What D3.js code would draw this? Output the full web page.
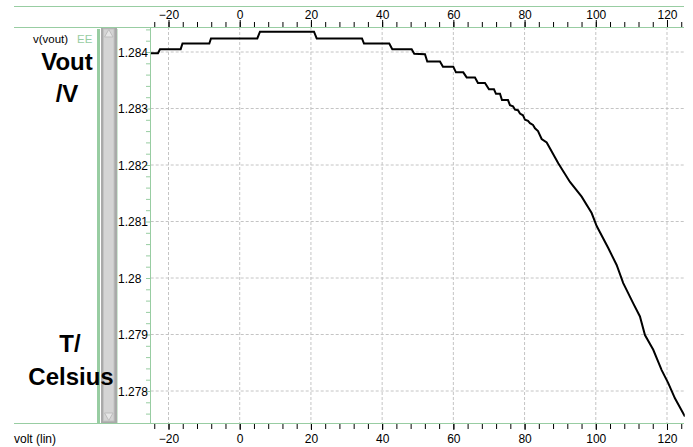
<!DOCTYPE html>
<head>
  <meta charset="UTF-8">
  <title>Vout vs T</title>
  <style>
    body { margin: 0; background: #fff; }
    text { font-family: "Liberation Sans", Arial, sans-serif; }
  </style>
</head>
<body>
<script src="https://d3js.org/d3.v7.min.js" charset="utf-8"></script>
<script>
// temperature (Celsius) and output voltage (V)
let temps = [-25, -22.95, -22.39, -16.58, -16.07, -8.54, -8.07, 4.94, 5.69, 20.86,
  21.62, 34.34, 34.9, 42.0, 42.85, 48.29, 49.02, 52.03, 52.67, 56.24,
  57.08, 59.98, 60.73, 62.78, 63.74, 66.07, 66.91, 68.88, 70.0, 71.41,
  71.97, 73.1, 73.65, 75.34, 75.9, 76.74, 77.31, 78.15, 78.71, 79.55,
  80.12, 80.96, 81.52, 82.37, 82.93, 83.77, 84.8, 86.21, 89.46, 92.75,
  96.03, 98.84, 100.25, 103.5, 105.86, 107.71, 110.52, 112.4, 113.81, 116.14,
  118.5, 120.35, 122.23, 125.04];
let vout = [1.28398, 1.28398, 1.28405, 1.28405, 1.28415, 1.28415, 1.28424, 1.28424, 1.28436, 1.28436,
  1.28424, 1.28424, 1.28415, 1.28415, 1.28405, 1.28405, 1.28397, 1.28396, 1.28383, 1.28383,
  1.28374, 1.28374, 1.28364, 1.28364, 1.28355, 1.28355, 1.28345, 1.28345, 1.28334, 1.28334,
  1.28326, 1.28326, 1.28315, 1.28315, 1.28306, 1.28304, 1.28298, 1.28297, 1.28291, 1.28288,
  1.2828, 1.28278, 1.28274, 1.28271, 1.28265, 1.2826, 1.28246, 1.2824, 1.28203, 1.2817,
  1.28144, 1.28115, 1.28092, 1.28053, 1.28023, 1.27991, 1.27955, 1.27932, 1.27899, 1.27873,
  1.27837, 1.27814, 1.27787, 1.27755];

let xTicks = [-20, 0, 20, 40, 60, 80, 100, 120];
let yTicks = [1.278, 1.279, 1.28, 1.281, 1.282, 1.283, 1.284];
let yTickLabels = ["1.278", "1.279", "1.28", "1.281", "1.282", "1.283", "1.284"];

let width = 693;
let height = 447;
let green = "#98cda2";

let svg = d3.select('body').append('svg')
  .attr('width', width)
  .attr('height', height);

// plot box
let plot = { left: 150.7, right: 684.8, top: 27, bottom: 423 };

let x = d3.scaleLinear().domain([-25, 125]).range([plot.left, plot.right]);
let y = d3.scaleLinear().domain([1.278, 1.284]).range([391, 52]);

// grid
svg.append('g').selectAll('line').data(xTicks).enter().append('line')
  .attr('x1', d => x(d)).attr('x2', d => x(d))
  .attr('y1', plot.top).attr('y2', plot.bottom)
  .attr('stroke', '#c4c4c4').attr('stroke-dasharray', '3,2');
svg.append('g').selectAll('line').data(yTicks).enter().append('line')
  .attr('x1', plot.left).attr('x2', plot.right)
  .attr('y1', d => y(d)).attr('y2', d => y(d))
  .attr('stroke', '#c4c4c4').attr('stroke-dasharray', '3,2');

// green frame lines
svg.append('line').attr('x1', 14).attr('x2', 684).attr('y1', 6.5).attr('y2', 6.5).attr('stroke', green);
svg.append('line').attr('x1', 14).attr('x2', 684).attr('y1', 27.5).attr('y2', 27.5).attr('stroke', green);
svg.append('line').attr('x1', 14).attr('x2', 684).attr('y1', 423.5).attr('y2', 423.5).attr('stroke', green);
svg.append('line').attr('x1', 150.5).attr('x2', 150.5).attr('y1', 27).attr('y2', 423).attr('stroke', green);

// top axis (ticks up)
let topAxis = d3.axisTop(x).tickValues(d3.range(-24, 125, 4)).tickSize(5).tickFormat('');
svg.append('g').attr('transform', 'translate(0,27)').call(topAxis)
  .call(g => g.select('.domain').remove())
  .selectAll('line').attr('stroke', '#000');
let topMajor = d3.axisTop(x).tickValues(xTicks).tickSize(7).tickPadding(1);
svg.append('g').attr('transform', 'translate(0,27)').call(topMajor)
  .call(g => g.select('.domain').remove())
  .call(g => g.selectAll('text').attr('font-size', 12).attr('font-family', 'Liberation Sans, Arial').attr('fill', '#000'))
  .selectAll('line').attr('stroke', '#000');

// bottom axis (ticks down)
let botAxis = d3.axisBottom(x).tickValues(d3.range(-24, 125, 4)).tickSize(5).tickFormat('');
svg.append('g').attr('transform', 'translate(0,424)').call(botAxis)
  .call(g => g.select('.domain').remove())
  .selectAll('line').attr('stroke', '#000');
let botMajor = d3.axisBottom(x).tickValues(xTicks).tickSize(6).tickPadding(4);
svg.append('g').attr('transform', 'translate(0,424)').call(botMajor)
  .call(g => g.select('.domain').remove())
  .call(g => g.selectAll('text').attr('font-size', 12).attr('font-family', 'Liberation Sans, Arial').attr('fill', '#000'))
  .selectAll('line').attr('stroke', '#000');

// left axis minor ticks
let leftAxis = d3.axisLeft(y).tickValues(d3.range(1.2776, 1.2845, 0.0002)).tickSize(4).tickFormat('');
svg.append('g').attr('transform', 'translate(150,0)').call(leftAxis)
  .call(g => g.select('.domain').remove())
  .selectAll('line').attr('stroke', green);

// y labels, left aligned
svg.append('g').selectAll('text').data(yTicks).enter().append('text')
  .attr('x', 118)
  .attr('y', d => y(d) + 4.5)
  .attr('font-size', 12)
  .attr('fill', '#000')
  .text((d, i) => yTickLabels[i]);

// scrollbar
svg.append('rect').attr('x', 97).attr('y', 29).attr('width', 3).attr('height', 394).attr('fill', green);
svg.append('rect').attr('x', 101).attr('y', 28).attr('width', 16).attr('height', 395).attr('fill', '#a9a9a9');
svg.append('rect').attr('x', 103.5).attr('y', 29).attr('width', 10.5).attr('height', 392)
  .attr('fill', '#d4d4d4').attr('stroke', '#c2c2c2');
svg.append('path').attr('d', 'M104.5,37 L108.8,29.5 L113,37 Z').attr('fill', '#e6e6e6').attr('stroke', '#bdbdbd');
svg.append('path').attr('d', 'M104.5,413 L108.8,420.5 L113,413 Z').attr('fill', '#e6e6e6').attr('stroke', '#bdbdbd');
svg.append('line').attr('x1', 117.5).attr('x2', 117.5).attr('y1', 29).attr('y2', 423).attr('stroke', '#cfe6d3');

// curve
let pts = temps.map((t, i) => [x(t), y(vout[i])]);
svg.append('defs').append('clipPath').attr('id', 'clip').append('rect')
  .attr('x', plot.left).attr('y', plot.top).attr('width', plot.right - plot.left).attr('height', plot.bottom - plot.top);
svg.append('path')
  .attr('d', d3.line()(pts))
  .attr('fill', 'none')
  .attr('stroke', '#000')
  .attr('stroke-width', 2)
  .attr('clip-path', 'url(#clip)');

// side labels
svg.append('text').attr('x', 33).attr('y', 43).attr('font-size', 11.5).attr('fill', '#000').text('v(vout)');
svg.append('text').attr('x', 77).attr('y', 43).attr('font-size', 11.5).attr('fill', green).text('EE');
let big = [['Vout', 67, 70], ['/V', 67, 102], ['T/', 70, 352], ['Celsius', 71, 385]];
svg.append('g').selectAll('text').data(big).enter().append('text')
  .attr('x', d => d[1]).attr('y', d => d[2])
  .attr('text-anchor', 'middle')
  .attr('font-size', 24).attr('font-weight', 'bold').attr('fill', '#000')
  .text(d => d[0]);
svg.append('text').attr('x', 14).attr('y', 443).attr('font-size', 12).attr('fill', '#000').text('volt (lin)');
</script>
</body>
</html>
